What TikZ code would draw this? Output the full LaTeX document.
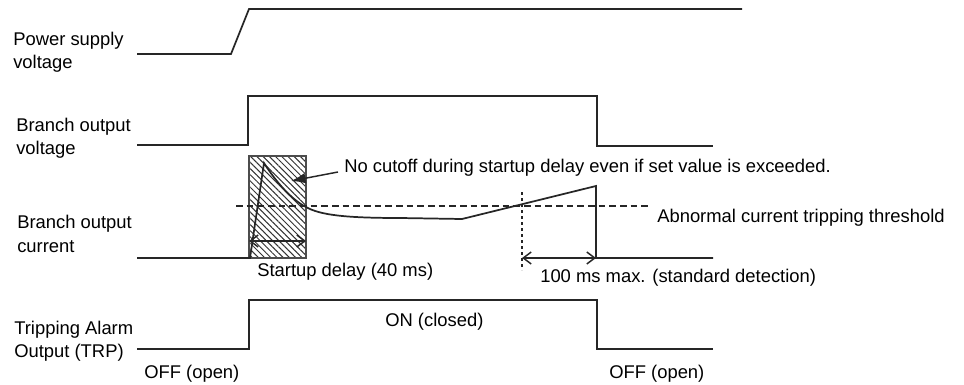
\documentclass[tikz,border=0pt]{standalone}
\usepackage{fontspec}
\setmainfont{Liberation Sans}
\usetikzlibrary{arrows.meta,patterns.meta}

\tikzset{
  wave/.style={line width=1.3pt, black!85},
  lbl/.style={anchor=west, align=left, inner sep=0pt, font=\fontsize{13.8}{17.5}\selectfont},
  txt/.style={anchor=west, inner sep=0pt, font=\fontsize{13.8}{17.5}\selectfont},
  barb/.style={{Straight Barb[length=6pt,width=9pt]}-{Straight Barb[length=6pt,width=9pt]}, line width=1.1pt}
}

\begin{document}
\begin{tikzpicture}[x=0.75pt, y=-0.75pt]
    \useasboundingbox (0,0) rectangle (964,385);

    % Signalnamen
    \node[lbl] (psv) at (13,52) {Power supply\\voltage};
    \node[lbl] (bov) at (16,138) {Branch output\\voltage};
    \node[lbl] (boc) at (17,234) {Branch output\\current};
    \node[lbl] (trp) at (14,341) {Tripping Alarm\\Output (TRP)};

    % Versorgungsspannung
    \draw[wave] (137,54) -- (231,54) -- (249,9) -- (742,9);

    % Ausgangsspannung
    \draw[wave] (137,145) -- (248,145) -- (248,96) -- (597,96) -- (597,146) -- (713,146);

    % Anlaufverzoegerung (schraffiert)
    \fill[pattern={Lines[angle=-45, distance=3.3pt, line width=0.75pt]}, pattern color=black!80] (249,156) rectangle (306,258);
    \draw[black!70, line width=1.1pt] (249,156) rectangle (306,258);

    % Schwelle
    \draw[black!85, line width=0.9pt, dash pattern=on 5pt off 3pt] (236,206) -- (648,206);
    \node[txt] (thr) at (657,218) {Abnormal current tripping threshold};

    % Ausgangsstrom
    \draw[wave] (137,258) -- (250,258) -- (264,163)
        .. controls (276,182) and (292,200) .. (306,207)
        .. controls (320,215) and (345,218) .. (400,218) -- (462,219)
        -- (596,186) -- (596,258) -- (713,258);

    % Hinweis
    \node[txt] (note) at (344,168) {No cutoff during startup delay even if set value is exceeded.};
    \coordinate (hatch) at (291,181);
    \draw[-{Latex[length=11pt,width=8pt]}, line width=1.1pt, black!85] (note.west) ++(-6,4) -- (hatch);

    % Verzoegerungen
    \coordinate (sd1) at (249,241);
    \coordinate (sd2) at (306,241);
    \draw[barb, black!85] (sd1) -- (sd2);
    \node[txt] (sdl) at (257,272) {Startup delay (40 ms)};

    \draw[black!85, line width=0.9pt, dash pattern=on 2.5pt off 2pt] (522,192) -- (522,270);
    \coordinate (dt1) at (522,258);
    \coordinate (dt2) at (596,258);
    \draw[barb, black!85] (dt1) -- (dt2);
    \node[txt] (dtl) at (540,278) {100 ms max. (standard detection)};

    % Alarmausgang
    \draw[wave] (137,349) -- (249,349) -- (249,300) -- (597,300) -- (597,349) -- (713,349);
    \node[txt] (on) at (385,322) {ON (closed)};
    \node[txt] (off1) at (144,374) {OFF (open)};
    \node[txt] (off2) at (609,374) {OFF (open)};
\end{tikzpicture}
\end{document}
